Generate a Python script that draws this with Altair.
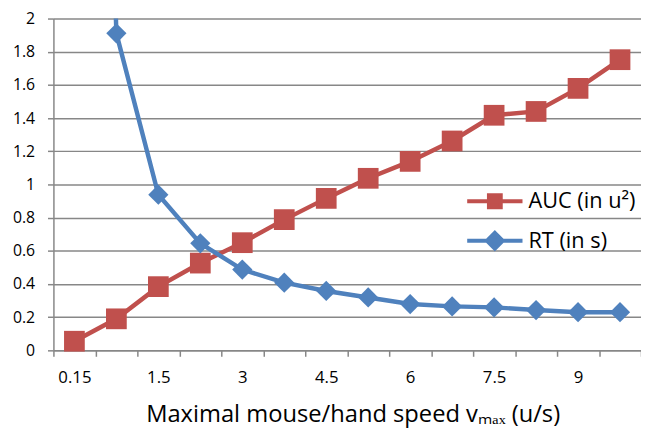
import altair as alt
import pandas as pd

# x categories (maximal speed, u/s)
cats = ["0.15", "0.75", "1.5", "2.25", "3", "3.75", "4.5", "5.25", "6",
        "6.75", "7.5", "8.25", "9", "9.75"]
shown_labels = ["0.15", "1.5", "3", "4.5", "6", "7.5", "9"]

auc = [0.055, 0.19, 0.384, 0.526, 0.649, 0.788, 0.916, 1.037, 1.139,
       1.262, 1.417, 1.44, 1.579, 1.752]
rt = [10.0, 1.911, 0.938, 0.645, 0.487, 0.408, 0.358, 0.319, 0.279,
      0.265, 0.259, 0.243, 0.23, 0.23]

series = ["AUC (in u²)", "RT (in s)"]
colors = ["#C0504D", "#4F81BD"]
y_ticks = [0, 0.2, 0.4, 0.6, 0.8, 1, 1.2, 1.4, 1.6, 1.8, 2]

FONT = "Open Sans"
GRID = "#878787"

label_arr = "[" + ",".join("'%s'" % s for s in shown_labels) + "]"

x_enc = alt.X(
    "cat:N", sort=cats, bandPosition=0.5,
    scale=alt.Scale(type="band", paddingInner=0, paddingOuter=0),
    axis=alt.Axis(
        title="Maximal mouse/hand speed vₘₐₓ (u/s)",
        tickBand="extent", ticks=True, tickSize=6, tickColor=GRID,
        tickWidth=1.5, domainColor=GRID, domainWidth=1.5,
        labelExpr="indexof(" + label_arr + ", datum.value) >= 0 ? datum.value : ''",
        labelAngle=0, labelFontSize=17, labelFont=FONT, labelColor="#000",
        labelPadding=14, labelOverlap=False,
        titleFont=FONT, titleFontSize=24, titleFontWeight="normal",
        titleColor="#000", titleBaseline="alphabetic", titleY=72,
        titleX=303, titleAnchor="middle",
    ),
)

y_enc = alt.Y(
    "value:Q",
    scale=alt.Scale(domain=[0, 2], nice=False, zero=True),
    axis=alt.Axis(
        title=None, values=y_ticks, format=".1~f", grid=True,
        gridColor=GRID, gridWidth=1.5, tickColor=GRID, tickSize=6,
        tickWidth=1.5, domainColor=GRID, domainWidth=1.5,
        labelFontSize=16, labelFont=FONT, labelColor="#000",
        labelPadding=13,
    ),
)

legend_paths = [
    "M-2.8,0L2.8,0M-0.6,-0.6L0.6,-0.6L0.6,0.6L-0.6,0.6Z",
    "M-2.8,0L2.8,0M0,-0.8L0.8,0L0,0.8L-0.8,0Z",
]
marker_shapes = ["square", "diamond"]
marker_sizes = [441, 420]
legend_y = [173, 213]


def series_layer(i, values):
    d = pd.DataFrame({"cat": cats, "value": values, "series": series[i]})
    color = alt.Color(
        "series:N",
        scale=alt.Scale(domain=[series[i]], range=[colors[i]]),
        legend=alt.Legend(
            title=None, orient="none", legendX=435, legendY=legend_y[i],
            padding=0, symbolSize=400, symbolType=legend_paths[i],
            symbolFillColor=colors[i], symbolStrokeColor=colors[i],
            symbolStrokeWidth=4, symbolOpacity=1, labelOffset=22,
            labelFontSize=22, labelFont=FONT, labelColor="#000",
            labelLimit=300,
        ),
    )
    base = alt.Chart(d)
    line = base.mark_line(strokeWidth=4.5, clip=True).encode(
        x=x_enc, y=y_enc, color=color
    )
    pts = base.transform_filter("datum.value <= 2").mark_point(
        filled=True, opacity=1, shape=marker_shapes[i], size=marker_sizes[i]
    ).encode(x=x_enc, y=y_enc, color=color)
    return alt.layer(line, pts)


chart = alt.layer(series_layer(0, auc), series_layer(1, rt)).resolve_scale(
    color="independent"
).properties(
    width=595, height=336,
    autosize=alt.AutoSizeParams(type="none"),
    padding={"left": 46, "top": 8, "right": 0, "bottom": 80},
    background="white",
).configure_view(stroke=None)

chart.save("out.html", embed_options={"renderer": "svg", "actions": False})
